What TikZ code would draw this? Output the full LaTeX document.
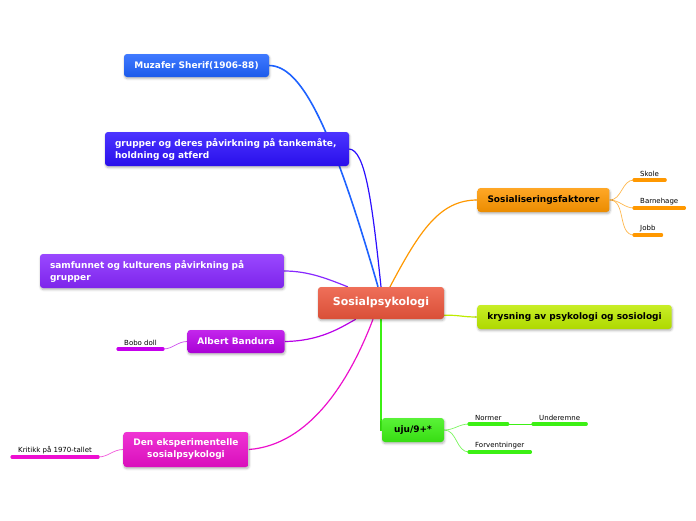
\documentclass[tikz,border=0pt]{standalone}
\usepackage{fontspec}
\setmainfont{DejaVu Sans}
\usepackage{tikz}
\usetikzlibrary{calc,shadows.blur,backgrounds}
\definecolor{rootcol}{RGB}{236,86,60}
\definecolor{sherifcol}{RGB}{30,98,255}
\definecolor{gruppcol}{RGB}{44,16,255}
\definecolor{samfcol}{RGB}{136,40,255}
\definecolor{bandcol}{RGB}{184,0,232}
\definecolor{ekspcol}{RGB}{236,16,204}
\definecolor{sozcol}{RGB}{255,152,0}
\definecolor{krycol}{RGB}{190,235,0}
\definecolor{ujucol}{RGB}{60,240,20}
\tikzset{
  topic/.style={rounded corners=3pt, inner xsep=10pt, inner ysep=2pt,
    minimum height=23pt, font=\bfseries\fontsize{9}{12}\selectfont,
    blur shadow={shadow blur steps=6, shadow opacity=30,
                 shadow xshift=0.6pt, shadow yshift=-1.6pt}},
  shadetop/.style={top color=#1!85!white, bottom color=#1!92!black},
  branchln/.style={line width=1.2pt},
  twigln/.style={line width=0.7pt},
  leaf/.style={inner xsep=6pt, inner ysep=3pt, anchor=south west,
    font=\fontsize{7}{8}\selectfont},
  leafln/.style={line width=3.2pt, line cap=round},
}
\newcommand{\leafline}[2]{%
  \draw[leafln,#1] (#2.south west) -- (#2.south east);
}

\begin{document}
\begin{tikzpicture}[x=1pt,y=-1pt]
  \useasboundingbox (0,0) rectangle (696,520);
  % main topic
  \node[topic, shadetop=rootcol, text=white, minimum width=126pt, minimum height=32pt,
    font=\bfseries\fontsize{11}{13}\selectfont] (root) at (381,303) {Sosialpsykologi};
  % left side
  \node[topic, shadetop=sherifcol, text=white, minimum width=145pt] (sherif) at (196.5,65.5)
    {Muzafer Sherif(1906-88)};
  \node[topic, shadetop=gruppcol, text=white, text width=224pt, align=left, minimum height=34pt]
    (grupper) at (227,149) {grupper og deres påvirkning på tankemåte,\\holdning og atferd};
  \node[topic, shadetop=samfcol, text=white, text width=224pt, align=left, minimum height=34pt]
    (samfunn) at (162,271) {samfunnet og kulturens påvirkning på\\grupper};
  \node[topic, shadetop=bandcol, text=white, minimum width=96pt] (bandura) at (236,341.5)
    {Albert Bandura};
  \node[topic, shadetop=ekspcol, text=white, align=center, minimum width=124pt, minimum height=35pt]
    (eksp) at (186,449.5) {Den eksperimentelle\\sosialpsykologi};
  % right side
  \node[topic, shadetop=sozcol, minimum width=131pt, minimum height=24pt] (sozial) at (543.5,200)
    {Sosialiseringsfaktorer};
  \node[topic, shadetop=krycol, minimum width=193pt, minimum height=24pt] (krysning) at (574.5,317)
    {krysning av psykologi og sosiologi};
  \node[topic, shadetop=ujucol, minimum width=62pt, minimum height=24pt] (uju) at (413,430)
    {uju/9+*};
  % leaves
  \node[leaf] (skole) at (634,180) {Skole};
  \node[leaf] (barnehage) at (634,208) {Barnehage};
  \node[leaf] (jobb) at (634,235) {Jobb};
  \node[leaf] (bobo) at (118,349) {Bobo doll};
  \node[leaf] (kritikk) at (12,457) {Kritikk på 1970-tallet};
  \node[leaf] (normer) at (469,424) {Normer};
  \node[leaf] (underemne) at (533,424) {Underemne};
  \node[leaf] (forvent) at (469,452) {Forventninger};
  \leafline{sozcol}{skole} \leafline{sozcol}{barnehage} \leafline{sozcol}{jobb}
  \leafline{bandcol!80!magenta}{bobo}
  \leafline{ekspcol!90!magenta}{kritikk}
  \leafline{ujucol}{normer} \leafline{ujucol}{underemne} \leafline{ujucol}{forvent}
  \begin{scope}[on background layer]
    % connectors from the main topic
    \draw[branchln, sherifcol, line width=1.6pt] (sherif.east)
      .. controls (300,66) and (330,120) .. ($(root.north)+(-3,0)$);
    \draw[branchln, gruppcol] (grupper.east)
      .. controls (365,150) and (372,200) .. (root.north);
    \draw[branchln, samfcol] (samfunn.east)
      .. controls (310,271) and (330,280) .. ($(root.north west)+(30,0)$);
    \draw[branchln, bandcol] (bandura.east)
      .. controls (320,341) and (340,328) .. ($(root.south west)+(38,0)$);
    \draw[branchln, ekspcol] (eksp.east)
      .. controls (310,445) and (350,380) .. ($(root.south)+(-8,0)$);
    \draw[branchln, ujucol] (root.south) |- (uju.west);
    \draw[branchln, sozcol] ($(root.north)+(9,0)$)
      .. controls (420,230) and (440,200) .. (sozial.west);
    \draw[branchln, krycol] ($(root.south east)+(0,-4)$)
      .. controls (460,315) and (462,317) .. (krysning.west);
    % twigs to the leaves
    \foreach \lf in {skole,barnehage,jobb}
      \draw[twigln, sozcol!70] (sozial.east) to[out=0,in=180] (\lf.south west);
    \foreach \lf in {normer,forvent}
      \draw[twigln, ujucol!70] (uju.east) to[out=0,in=180] (\lf.south west);
    \draw[twigln, ujucol] (normer.south east) -- (underemne.south west);
    \draw[twigln, bandcol!70] (bandura.west) to[out=180,in=0] (bobo.south east);
    \draw[twigln, ekspcol!70] (eksp.west) to[out=180,in=0] (kritikk.south east);
  \end{scope}
\end{tikzpicture}
\end{document}
